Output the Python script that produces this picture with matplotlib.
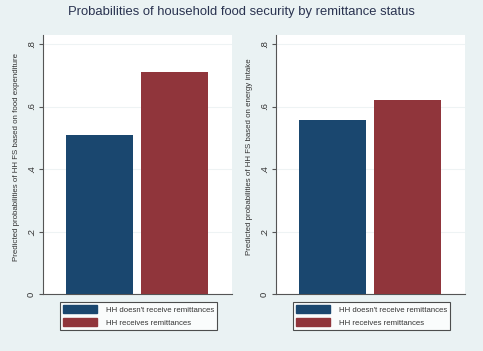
import numpy as np
import matplotlib
matplotlib.use("Agg")
import matplotlib.pyplot as plt

plt.rcParams['font.family'] = ['Liberation Sans', 'DejaVu Sans']

BG = "#EAF2F3"
NAVY = "#1A476F"
MAROON = "#90353B"

groups = ["HH doesn't receive remittances", "HH receives remittances"]
food_exp = [0.509, 0.711]
energy = [0.558, 0.621]
ylabels = ["Predicted probabilities of HH FS based on food expenditure",
           "Predicted probabilities of HH FS based on energy intake"]
yticks = [0, 0.2, 0.4, 0.6, 0.8]
ytick_labels = ["0", ".2", ".4", ".6", ".8"]

W, H = 483, 351
fig = plt.figure(figsize=(W / 100, H / 100), dpi=100, facecolor=BG)
fig.suptitle("Probabilities of household food security by remittance status",
             y=1 - 12 / H, va="center", fontsize=9.4, color="#2A3350")

panels = [(43, 232, 60, food_exp, ylabels[0]),
          (276, 465, 293, energy, ylabels[1])]
y0, y1 = 294, 35

for left, right, legx, vals, ylab in panels:
    ax = fig.add_axes([left / W, 1 - y0 / H, (right - left) / W, (y0 - y1) / H])
    ax.set_facecolor("white")
    ax.bar([0, 1], vals, width=0.893, color=[NAVY, MAROON], zorder=3)
    ax.set_xlim(-0.753, 1.767)
    ax.set_ylim(0, 0.8 + (44 - 35) / 312.5)
    ax.set_yticks(yticks)
    ax.set_yticklabels(ytick_labels, rotation=90, va="center", fontsize=6.8,
                       color="#333333")
    ax.set_xticks([])
    ax.grid(axis="y", color="#EEF3F4", lw=0.8, zorder=0)
    for s in ["top", "right"]:
        ax.spines[s].set_visible(False)
    for s in ["left", "bottom"]:
        ax.spines[s].set_color("#555555")
        ax.spines[s].set_linewidth(0.8)
    ax.tick_params(axis="y", length=3, width=0.8, color="#555555", pad=2)
    ax.set_ylabel(ylab, fontsize=5.7, color="#333333", labelpad=5)
    ax.yaxis.set_label_coords(-0.12, (y0 - 157) / (y0 - y1))

    handles = [plt.Rectangle((0, 0), 1, 1, color=NAVY),
               plt.Rectangle((0, 0), 1, 1, color=MAROON)]
    leg = fig.legend(handles, groups, loc="upper left",
                     bbox_to_anchor=(legx / W, 1 - 302 / H),
                     fontsize=5.6, frameon=True, fancybox=False,
                     edgecolor="#222222", facecolor="white",
                     handlelength=4.4, handleheight=1.2,
                     handletextpad=1.1, labelspacing=0.55,
                     borderpad=0.4, borderaxespad=0)
    leg.get_frame().set_linewidth(0.8)
    for t in leg.get_texts():
        t.set_color("#333333")

fig.savefig("out.png", dpi=100, facecolor=BG)
